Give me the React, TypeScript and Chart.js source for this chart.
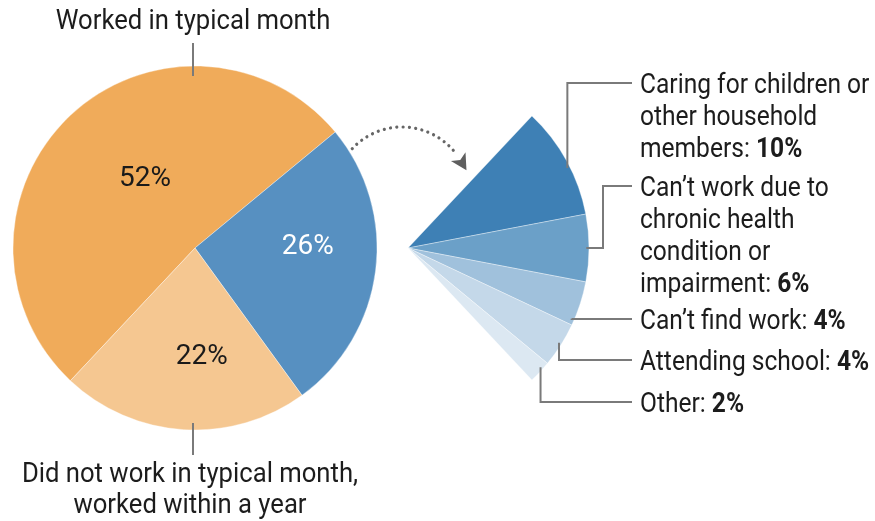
import React, { useEffect, useRef } from "react";
import { Chart, registerables } from "chart.js";

Chart.register(...registerables);

const W = 875;
const H = 521;
const FONT = "Roboto, 'Liberation Sans', sans-serif";
const TEXT_COLOR = "#1c1c1c";
const LINE_COLOR = "#7a7a7a";

// ---- Data: main pie ----
const mainCategories = [
  "Worked in typical month",
  "Did not work in past year",
  "Did not work in typical month, worked within a year",
];
const mainValues = [52, 26, 22];
const mainColors = ["#F0AB5A", "#5790C1", "#F5C791"];
const mainValueColors = ["#1a1a1a", "#ffffff", "#1a1a1a"];
const topLabelLines = ["Worked in typical month"];
const bottomLabelLines = ["Did not work in typical month,", "worked within a year"];

// ---- Data: reasons (breakdown of the 26%) ----
const reasonCategories = [
  "Caring for children or other household members",
  "Can’t work due to chronic health condition or impairment",
  "Can’t find work",
  "Attending school",
  "Other",
];
const reasonValues = [10, 6, 4, 4, 2];
const reasonColors = ["#3E80B5", "#6BA0C8", "#A0C1DC", "#C4D8E9", "#DCE8F2"];
const reasonLabelLines = [
  ["Caring for children or", "other household", "members: "],
  ["Can’t work due to", "chronic health", "condition or", "impairment: "],
  ["Can’t find work: "],
  ["Attending school: "],
  ["Other: "],
];

// ---- Layout (styles only) ----
const MAIN_CENTER = { x: 195, y: 248 };
const MAIN_R = 182;
const MAIN_MID_ANGLE = 316.8; // clock angle of the first slice's middle
const FAN_CENTER = { x: 408, y: 248 };
const FAN_R = 181;
const MAIN_LABEL_POS = [
  { f: 0.54, r: 0.47 },
  { f: 0.42, r: 0.62 },
  { f: 0.41, r: 0.6 },
];
const FAN_LEADERS = [
  { f: 0.56, lineY: 83 },
  { f: 0.5, lineY: 186, elbowX: 603 },
  { f: 0.875, lineY: 319 },
  { f: 0.48, lineY: 360 },
  { f: 0.33, lineY: 402 },
];
const LABEL_X = 640;
const LINE_END_X = 632;
const LINE_H = 32;
const LEFT_FONT_PX = 27;
const LEFT_SX = 0.95;
const RIGHT_FONT_PX = 27;
const RIGHT_SX = 0.91;

const mainTotal = mainValues.reduce((a, b) => a + b, 0);
const reasonTotal = reasonValues.reduce((a, b) => a + b, 0);
const fanCirc = (reasonTotal / mainTotal) * 360;
const mainRotation = MAIN_MID_ANGLE - ((mainValues[0] / mainTotal) * 360) / 2;

function polyline(ctx: CanvasRenderingContext2D, pts: number[][]) {
  ctx.beginPath();
  ctx.moveTo(pts[0][0], pts[0][1]);
  for (let i = 1; i < pts.length; i++) ctx.lineTo(pts[i][0], pts[i][1]);
  ctx.stroke();
}

function scaledText(ctx: CanvasRenderingContext2D, t: string, x: number, y: number, sx: number) {
  ctx.save();
  ctx.translate(x, y);
  ctx.scale(sx, 1);
  ctx.fillText(t, 0, 0);
  ctx.restore();
  return ctx.measureText(t).width * sx;
}

const mainPlugin = {
  id: "mainAnno",
  afterDatasetsDraw(chart: any) {
    const ctx: CanvasRenderingContext2D = chart.ctx;
    const arcs = chart.getDatasetMeta(0).data;
    ctx.save();
    arcs.forEach((arc: any, i: number) => {
      const p = arc.getProps(["x", "y", "startAngle", "endAngle", "outerRadius"], true);
      const a = p.startAngle + MAIN_LABEL_POS[i].f * (p.endAngle - p.startAngle);
      const r = MAIN_LABEL_POS[i].r * p.outerRadius;
      ctx.font = `400 28px ${FONT}`;
      ctx.fillStyle = mainValueColors[i];
      ctx.textAlign = "center";
      ctx.textBaseline = "middle";
      ctx.fillText(`${mainValues[i]}%`, p.x + Math.cos(a) * r, p.y + Math.sin(a) * r);
    });
    const p0 = arcs[0].getProps(["x", "y", "outerRadius"], true);
    const lx = p0.x - 2;
    ctx.strokeStyle = LINE_COLOR;
    ctx.lineWidth = 2;
    polyline(ctx, [[lx, 43], [lx, p0.y - p0.outerRadius + 10]]);
    polyline(ctx, [[lx, p0.y + p0.outerRadius - 7], [lx, 455]]);
    ctx.fillStyle = TEXT_COLOR;
    ctx.font = `400 ${LEFT_FONT_PX}px ${FONT}`;
    ctx.textAlign = "center";
    ctx.textBaseline = "alphabetic";
    topLabelLines.forEach((t, i) => scaledText(ctx, t, lx, 29 + i * 31, LEFT_SX));
    bottomLabelLines.forEach((t, i) => scaledText(ctx, t, lx - 3, 482 + i * 31, LEFT_SX));
    ctx.restore();
  },
};

const fanPlugin = {
  id: "fanAnno",
  afterDatasetsDraw(chart: any) {
    const ctx: CanvasRenderingContext2D = chart.ctx;
    const arcs = chart.getDatasetMeta(0).data;
    ctx.save();
    // dotted arrow
    const ac = { x: 402, y: 195 };
    const ar = 68;
    const a0 = (-137 * Math.PI) / 180;
    const a1 = (-36 * Math.PI) / 180;
    ctx.strokeStyle = "#666666";
    ctx.lineWidth = 3.2;
    ctx.lineCap = "round";
    ctx.setLineDash([0.01, 6.3]);
    ctx.beginPath();
    ctx.arc(ac.x, ac.y, ar, a0, a1);
    ctx.stroke();
    ctx.setLineDash([]);
    const e = (-31 * Math.PI) / 180;
    const P = { x: ac.x + Math.cos(e) * ar, y: ac.y + Math.sin(e) * ar };
    const d = { x: -Math.sin(e), y: Math.cos(e) };
    const n = { x: -d.y, y: d.x };
    const tip = { x: P.x + d.x * 12, y: P.y + d.y * 12 };
    const back = { x: P.x - d.x * 4, y: P.y - d.y * 4 };
    ctx.fillStyle = "#5f5f5f";
    ctx.beginPath();
    ctx.moveTo(tip.x, tip.y);
    ctx.lineTo(back.x + n.x * 8.5, back.y + n.y * 8.5);
    ctx.lineTo(P.x, P.y);
    ctx.lineTo(back.x - n.x * 8.5, back.y - n.y * 8.5);
    ctx.closePath();
    ctx.fill();

    // leader lines + labels
    ctx.lineCap = "butt";
    arcs.forEach((arc: any, i: number) => {
      const p = arc.getProps(["x", "y", "startAngle", "endAngle", "outerRadius"], true);
      const L = FAN_LEADERS[i];
      const a = p.startAngle + L.f * (p.endAngle - p.startAngle);
      const r = p.outerRadius * 0.985;
      const A = [p.x + Math.cos(a) * r, p.y + Math.sin(a) * r];
      const ex = L.elbowX ?? A[0];
      ctx.strokeStyle = LINE_COLOR;
      ctx.lineWidth = 2;
      polyline(ctx, [A, [ex, A[1]], [ex, L.lineY], [LINE_END_X, L.lineY]]);

      const lines = reasonLabelLines[i];
      ctx.textAlign = "left";
      ctx.textBaseline = "alphabetic";
      ctx.fillStyle = TEXT_COLOR;
      lines.forEach((t, j) => {
        const y = L.lineY + 10 + j * LINE_H;
        ctx.font = `400 ${RIGHT_FONT_PX}px ${FONT}`;
        const w = scaledText(ctx, t, LABEL_X, y, RIGHT_SX);
        if (j === lines.length - 1) {
          ctx.font = `700 ${RIGHT_FONT_PX}px ${FONT}`;
          scaledText(ctx, `${reasonValues[i]}%`, LABEL_X + w, y, RIGHT_SX);
        }
      });
    });
    ctx.restore();
  },
};

export default function App() {
  const mainRef = useRef<HTMLCanvasElement>(null);
  const fanRef = useRef<HTMLCanvasElement>(null);

  useEffect(() => {
    const main = new Chart(mainRef.current as HTMLCanvasElement, {
      type: "pie",
      data: {
        labels: mainCategories,
        datasets: [
          {
            data: mainValues,
            backgroundColor: mainColors,
            borderWidth: 0.6,
            borderColor: "rgba(255,255,255,0.6)",
          },
        ],
      },
      options: {
        responsive: false,
        animation: false,
        events: [],
        rotation: mainRotation,
        radius: MAIN_R,
        layout: {
          padding: {
            left: MAIN_CENTER.x - MAIN_R,
            right: W - (MAIN_CENTER.x + MAIN_R),
            top: MAIN_CENTER.y - MAIN_R,
            bottom: H - (MAIN_CENTER.y + MAIN_R),
          },
        },
        plugins: { legend: { display: false }, tooltip: { enabled: false } },
      } as any,
      plugins: [mainPlugin],
    });

    const fan = new Chart(fanRef.current as HTMLCanvasElement, {
      type: "pie",
      data: {
        labels: reasonCategories,
        datasets: [
          {
            data: reasonValues,
            backgroundColor: reasonColors,
            borderWidth: 0.6,
            borderColor: "rgba(255,255,255,0.6)",
          },
        ],
      },
      options: {
        responsive: false,
        animation: false,
        events: [],
        rotation: 90 - fanCirc / 2,
        circumference: fanCirc,
        radius: FAN_R,
        layout: {
          padding: {
            left: FAN_CENTER.x,
            right: W - (FAN_CENTER.x + FAN_R),
            top: 116,
            bottom: H - 380,
          },
        },
        plugins: { legend: { display: false }, tooltip: { enabled: false } },
      } as any,
      plugins: [fanPlugin],
    });

    return () => {
      main.destroy();
      fan.destroy();
    };
  }, []);

  const cs: React.CSSProperties = { position: "absolute", left: 0, top: 0, width: W, height: H };
  return (
    <div style={{ position: "fixed", left: 0, top: 0, width: W, height: H, background: "#fff", overflow: "hidden" }}>
      <canvas ref={mainRef} width={W} height={H} style={cs} />
      <canvas ref={fanRef} width={W} height={H} style={cs} />
    </div>
  );
}
